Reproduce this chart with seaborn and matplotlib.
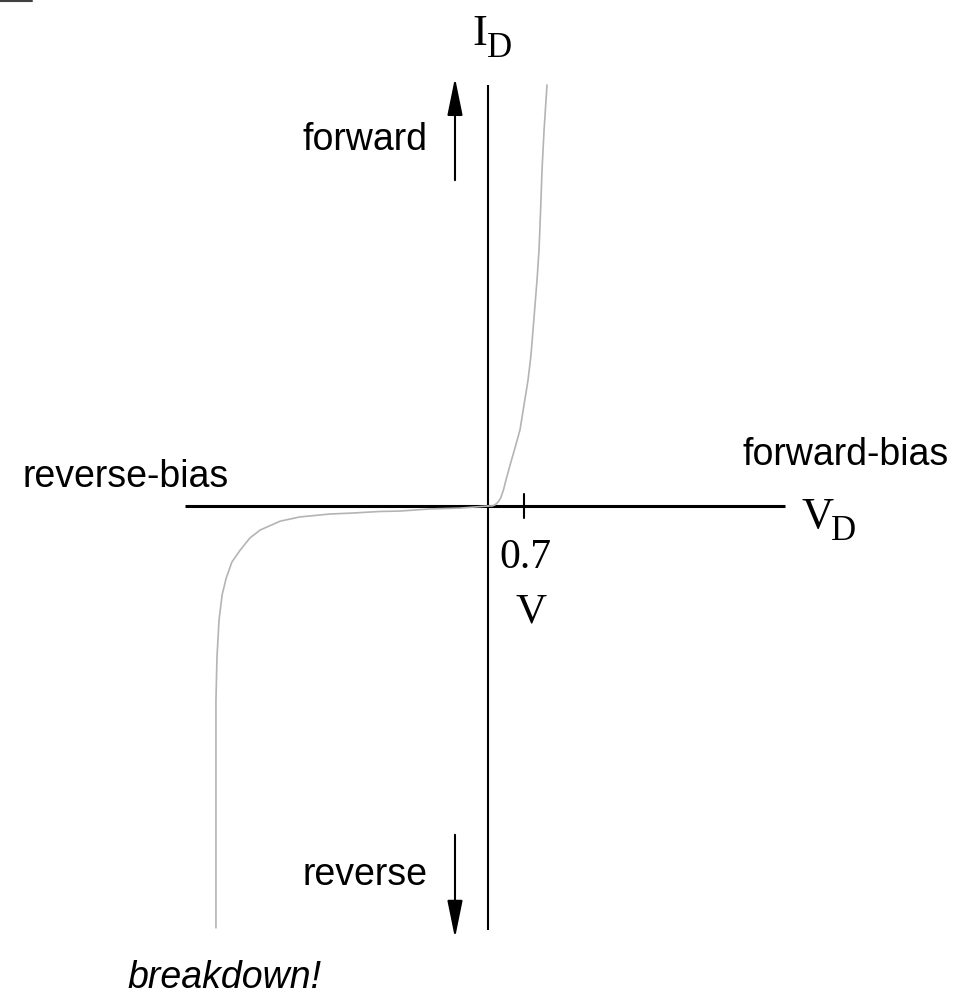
import numpy as np
import matplotlib
matplotlib.use("Agg")
import matplotlib.pyplot as plt
import seaborn as sns
from matplotlib.lines import Line2D

# diode I-V characteristic (V in volts, I in arbitrary mA-ish units)
fwd_v = [0.0, 0.08, 0.14, 0.2, 0.25, 0.3, 0.35, 0.428, 0.525, 0.622, 0.70, 0.778,
         0.836, 0.875, 0.914, 0.953, 0.992, 1.03, 1.05, 1.09, 1.147]
fwd_i = [0.0, 0.0, 0.03, 0.1, 0.2, 0.38, 0.62, 0.97, 1.38, 1.81, 2.40, 2.99,
         3.59, 4.18, 4.77, 5.37, 6.08, 7.27, 7.98, 8.93, 10.0]

rev_v = [0.0, -0.544, -1.128, -1.711, -2.10, -2.68, -3.07, -3.66, -4.04, -4.43,
         -4.63, -4.82, -4.98, -5.09, -5.17, -5.23, -5.27, -5.29, -5.29, -5.29]
rev_i = [0.0, -0.05, -0.07, -0.12, -0.13, -0.17, -0.19, -0.26, -0.36, -0.57,
         -0.76, -1.05, -1.33, -1.71, -2.11, -2.71, -3.59, -4.61, -6.98, -10.02]

knee_v = 0.7              # marked forward voltage
v_axis = (-5.89, 5.775)   # extent of drawn V axis
i_axis = (-10.07, 10.0)   # extent of drawn I axis

sns.set_style("white")
plt.rcParams['font.family'] = ['Liberation Sans', 'DejaVu Sans']
plt.rcParams['text.color'] = 'black'
serif = ['Liberation Serif', 'DejaVu Serif']

fig = plt.figure(figsize=(9.68, 9.96), dpi=100)
ax = fig.add_axes([0, 0, 1, 1])
ax.set_xlim(-9.489, 9.333)
ax.set_ylim(-11.639, 12.019)
ax.axis('off')

# axes of the sketch
ax.plot(v_axis, [0, 0], color='black', lw=2.2, solid_capstyle='butt')
ax.plot([0, 0], i_axis, color='black', lw=1.5, solid_capstyle='butt')
ax.plot([knee_v, knee_v], [0.28, -0.28], color='black', lw=1.5)

# curve
sns.lineplot(x=fwd_v, y=fwd_i, sort=False, estimator=None, color='#b4b4b4', lw=1.2, ax=ax)
sns.lineplot(x=rev_v, y=rev_i, sort=False, estimator=None, color='#b4b4b4', lw=1.2, ax=ax)

# direction arrows
arrow = dict(arrowstyle='-|>,head_length=2.3,head_width=0.47', mutation_scale=10,
             color='black', lw=1.5, shrinkA=0, shrinkB=0)
ax.annotate('', xy=(-0.642, 10.17), xytext=(-0.642, 7.74), arrowprops=arrow)
ax.annotate('', xy=(-0.642, -10.26), xytext=(-0.642, -7.81), arrowprops=arrow)

# labels
fs = 27
ax.text(-1.167, 8.46, 'forward', ha='right', va='baseline', fontsize=fs)
ax.text(-1.167, -9.0, 'reverse', ha='right', va='baseline', fontsize=fs)
ax.text(-9.06, 0.45, 'reverse-bias', ha='left', va='baseline', fontsize=fs)
ax.text(4.94, 0.97, 'forward-bias', ha='left', va='baseline', fontsize=fs)
ax.text(-7.02, -11.45, 'breakdown!', ha='left', va='baseline', fontsize=fs, style='italic')

ax.text(-0.311, 10.95, 'I', ha='left', va='baseline', fontsize=32, family=serif)
ax.text(-0.03, 10.67, 'D', ha='left', va='baseline', fontsize=25, family=serif)
ax.text(6.105, -0.52, 'V', ha='left', va='baseline', fontsize=32, family=serif)
ax.text(6.66, -0.81, 'D', ha='left', va='baseline', fontsize=25, family=serif)
ax.text(0.72, -1.47, '0.7', ha='center', va='baseline', fontsize=30, family=serif)
ax.text(0.84, -2.76, 'V', ha='center', va='baseline', fontsize=31, family=serif)

# small stray mark in the top-left corner of the original
fig.add_artist(Line2D([0, 0.033], [0.999, 0.999], color='#404040', lw=1.5))

fig.savefig('out.png', dpi=100)
